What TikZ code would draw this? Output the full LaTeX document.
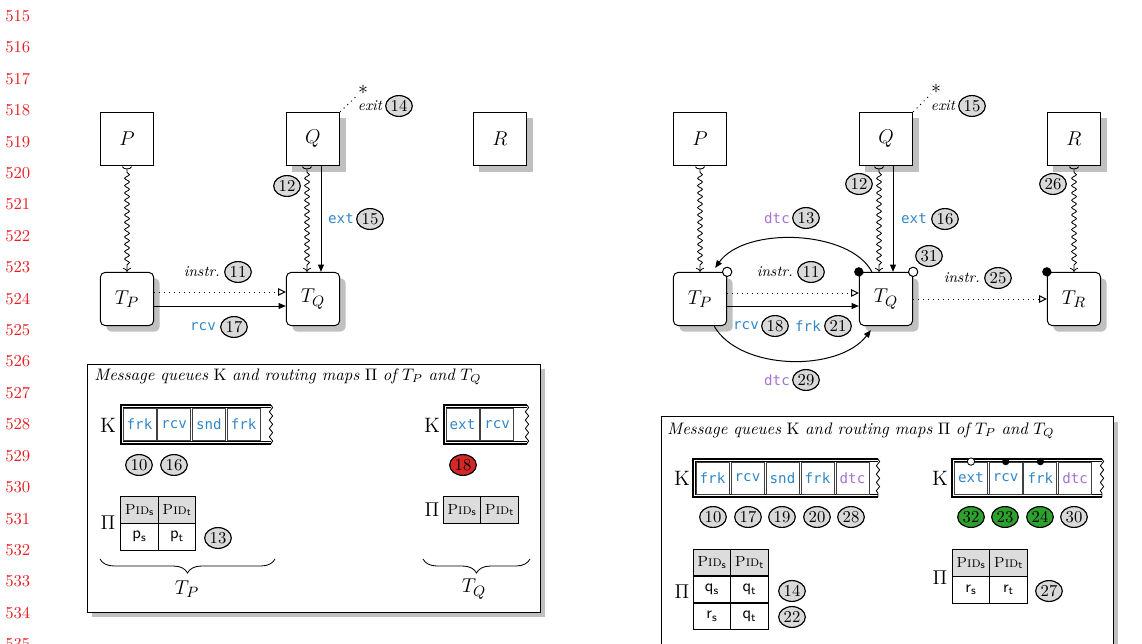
\documentclass[tikz,border=0pt]{standalone}
\usepackage{fontspec}
\newfontfamily\codefont{DejaVu Sans Mono}
\usetikzlibrary{arrows.meta,shapes.geometric,shadows,decorations.pathmorphing,decorations.pathreplacing,calc}

\definecolor{lnred}{RGB}{230,30,35}
\definecolor{codeblue}{RGB}{50,135,200}
\definecolor{codepurple}{RGB}{165,115,210}
\definecolor{badgegrey}{RGB}{217,217,217}
\definecolor{badgered}{RGB}{212,40,40}
\definecolor{badgegreen}{RGB}{45,160,45}
\definecolor{shadowgrey}{RGB}{192,192,192}
\definecolor{headgrey}{RGB}{220,220,220}

\newcommand\pid[1]{\textsc{Pid}$_{\mathsf{#1}}$}
\newcommand\sv[2]{\textsf{#1}$_{\mathsf{#2}}$}
% queue frame: double border on three sides, torn right edge
\newcommand\qframe[4]{%
  \draw[line width=0.8pt] (#3,#2) -- (#1,#2) -- (#1,#4) -- (#3,#4);
  \draw[line width=0.4pt] (#3,#2+2.5) -- (#1+2.5,#2+2.5) -- (#1+2.5,#4-2.5) -- (#3,#4-2.5);
  \draw[line width=0.5pt, decorate, decoration={snake,amplitude=1pt,segment length=5pt}] (#3,#2) -- (#3,#4);
}
% small cup at the start of a wavy connector
\newcommand\cupat[2]{%
  \draw[line width=0.5pt] ([xshift=#2-2.8pt,yshift=-0.3pt]#1) .. controls ([xshift=#2-2.2pt,yshift=-2.1pt]#1) and ([xshift=#2+2.2pt,yshift=-2.1pt]#1) .. ([xshift=#2+2.8pt,yshift=-0.3pt]#1);
}

\tikzset{
  lnum/.style={font=\fontsize{10}{12}\selectfont, text=lnred, anchor=west, inner sep=0pt},
  proc/.style={draw, line width=0.6pt, minimum width=32pt, minimum height=32pt, inner sep=0pt, fill=white, font=\fontsize{13}{15}\selectfont},
  shad/.style={drop shadow={shadow xshift=3.6pt, shadow yshift=-3.6pt, fill=shadowgrey, opacity=1}},
  thread/.style={proc, rounded corners=3pt},
  badge/.style={ellipse, draw, line width=0.7pt, fill=badgegrey, minimum width=16pt, minimum height=12.5pt, inner sep=0pt, font=\fontsize{10}{11}\selectfont},
  badgered/.style={badge, fill=badgered},
  badgegreen/.style={badge, fill=badgegreen},
  code/.style={font=\codefont\fontsize{8.5}{10}\selectfont, text=codeblue, inner sep=0.5pt},
  codep/.style={code, text=codepurple},
  itlab/.style={font=\fontsize{9}{10}\selectfont\itshape, inner sep=0.5pt},
  sym/.style={font=\fontsize{12}{14}\selectfont, inner sep=0pt},
  wavy/.style={line width=0.5pt, decorate, decoration={snake, amplitude=1.4pt, segment length=4.4pt, pre length=2pt, post length=3pt}, -{To[length=2.4pt,width=5pt]}},
  msg/.style={line width=0.6pt, -{Triangle[length=4.4pt,width=3.6pt]}},
  instr/.style={line width=0.6pt, dash pattern=on 0.6pt off 2.4pt, -{Triangle[open,length=4.6pt,width=4.4pt]}},
  exitline/.style={line width=0.6pt, dash pattern=on 0.6pt off 2.4pt},
  cell/.style={draw=black!75, line width=0.5pt, minimum width=19.8pt, minimum height=19.2pt, inner sep=0pt, fill=white},
  tcell/.style={draw, line width=0.6pt, minimum width=22.5pt, minimum height=16pt, inner sep=0pt, font=\fontsize{10}{11}\selectfont},
  hcell/.style={tcell, fill=headgrey, font=\fontsize{8.8}{10}\selectfont},
  opendot/.style={circle, draw, line width=0.6pt, fill=white, minimum size=5.6pt, inner sep=0pt},
  fulldot/.style={circle, fill=black, minimum size=5.6pt, inner sep=0pt},
  qopen/.style={circle, draw, line width=0.5pt, fill=white, minimum size=4.4pt, inner sep=0pt},
  qfull/.style={circle, fill=black, minimum size=4.4pt, inner sep=0pt},
  memo/.style={draw, line width=0.6pt, fill=white, inner sep=0pt, drop shadow={shadow xshift=3pt, shadow yshift=-3pt, fill=shadowgrey, opacity=1}},
  caption/.style={anchor=west, inner sep=0pt, font=\fontsize{10}{12}\selectfont},
  big/.style={font=\fontsize{12.5}{14}\selectfont, inner sep=0pt},
  brace/.style={decorate, decoration={brace, mirror, amplitude=8.4pt}, line width=0.5pt},
}

\begin{document}
\begin{tikzpicture}[x=0.6pt,y=-0.6pt]
\useasboundingbox (0,0) rectangle (1142,644);

% line numbers
\foreach \i in {0,...,20}{
  \pgfmathtruncatemacro\n{515+\i}
  \node[lnum] (ln\n) at (5,16+31.42*\i) {\n};
}

% ===================== left configuration =====================
\node[proc] (P) at (127,139) {$P$};
\node[proc, shad] (Q) at (313,139) {$Q$};
\node[proc, shad] (R) at (500,139) {$R$};
\node[thread, shad] (TP) at (127,299) {$T_P$};
\node[thread, shad] (TQ) at (313,299) {$T_Q$};

\cupat{P.south}{0pt}
\draw[wavy] ([yshift=-1.7pt]P.south) -- (TP.north);
\cupat{Q.south}{-3.6pt}
\draw[wavy] ([xshift=-3.6pt,yshift=-1.7pt]Q.south) -- ([xshift=-3.6pt]TQ.north);
\draw[msg] ([xshift=4.8pt]Q.south) -- ([xshift=4.8pt]TQ.north);
\draw[instr] ([yshift=4.2pt]TP.east) -- ([yshift=4.2pt]TQ.west);
\draw[msg] ([yshift=-4.2pt]TP.east) -- ([yshift=-4.2pt]TQ.west);

\node[itlab, anchor=east] (li11) at (221,272) {instr.};
\node[badge] (b11) at (238,272) {11};
\node[code] (lrcv) at (203,327) {rcv};
\node[badge] (b17) at (234,327) {17};
\node[code] (lext) at (341,219) {ext};
\node[badge] (b15) at (370,219) {15};
\node[badge] (b12) at (287,186) {12};
\node[sym] (star) at (363,90) {$\ast$};
\draw[exitline] (Q.north east) -- (star);
\node[itlab] (lexit) at (370,106) {exit};
\node[badge] (b14) at (399,106) {14};

% memory of T_P and T_Q
\node[memo, minimum width=271.8pt, minimum height=148.8pt] (memL) at (313.5,488) {};
\node[caption] (capL) at (94,377) {{\itshape Message queues} K {\itshape and routing maps} $\Pi$ {\itshape of} $T_P$ {\itshape and} $T_Q$};

\node[big] (KP) at (108,425) {K};
\qframe{121}{405}{271}{444}
\node[cell, code] (kp1) at (139.5,424.5) {frk};
\node[cell, code] (kp2) at (174.2,424.5) {rcv};
\node[cell, code] (kp3) at (208.9,424.5) {snd};
\node[cell, code] (kp4) at (243.6,424.5) {frk};
\node[badge] (b10) at (139,465) {10};
\node[badge] (b16) at (174,465) {16};

\node[big] (PiP) at (108,523) {$\Pi$};
\node[hcell] (pp1) at (139.5,510.2) {\pid{s}};
\node[hcell] (pp2) at (177,510.2) {\pid{t}};
\node[tcell] (pp3) at (139.5,536.8) {\sv{p}{s}};
\node[tcell] (pp4) at (177,536.8) {\sv{p}{t}};
\node[badge] (b13) at (218,538) {13};
\draw[brace] (100,559) -- (275,559);
\node[big] (bTP) at (187,589) {$T_P$};

\node[big] (KQ) at (432,425) {K};
\qframe{444}{405}{527}{444}
\node[cell, code] (kq1) at (462.5,424.5) {ext};
\node[cell, code] (kq2) at (497.2,424.5) {rcv};
\node[badgered] (b18) at (463,465) {18};
\node[big] (PiQ) at (432,510) {$\Pi$};
\node[hcell] (pq1) at (462,510.2) {\pid{s}};
\node[hcell] (pq2) at (499.5,510.2) {\pid{t}};
\draw[brace] (423,559) -- (530,559);
\node[big] (bTQ) at (474,589) {$T_Q$};

% ===================== right configuration =====================
\node[proc] (P2) at (700,139) {$P$};
\node[proc, shad] (Q2) at (886,139) {$Q$};
\node[proc, shad] (R2) at (1074,139) {$R$};
\node[thread, shad] (TP2) at (700,299) {$T_P$};
\node[thread, shad] (TQ2) at (886,299) {$T_Q$};
\node[thread, shad] (TR2) at (1074,299) {$T_R$};

\cupat{P2.south}{0pt}
\draw[wavy] ([yshift=-1.7pt]P2.south) -- (TP2.north);
\cupat{Q2.south}{-4.2pt}
\draw[wavy] ([xshift=-4.2pt,yshift=-1.7pt]Q2.south) -- ([xshift=-4.2pt]TQ2.north);
\draw[msg] ([xshift=4.2pt]Q2.south) -- ([xshift=4.2pt]TQ2.north);
\cupat{R2.south}{0pt}
\draw[wavy] ([yshift=-1.7pt]R2.south) -- (TR2.north);

\draw[instr] ([yshift=3.6pt]TP2.east) -- ([yshift=3.6pt]TQ2.west);
\draw[msg] ([yshift=-4.2pt]TP2.east) -- ([yshift=-4.2pt]TQ2.west);
\draw[instr] (TQ2.east) -- (TR2.west);

\coordinate (d13s) at ([xshift=7.8pt]TQ2.north west);
\coordinate (d13e) at ([xshift=-7.2pt,yshift=2.4pt]TP2.north east);
\draw[msg] (d13s) .. controls ($(d13s)+(-22,-42)$) and ($(d13e)+(30,-42)$) .. (d13e);
\coordinate (d29s) at ([xshift=-7.8pt]TP2.south east);
\coordinate (d29e) at ([xshift=7.2pt,yshift=-2.4pt]TQ2.south west);
\draw[msg] (d29s) .. controls ($(d29s)+(26,45)$) and ($(d29e)+(-32,42)$) .. (d29e);

\node[opendot] (oTP) at (TP2.north east) {};
\node[fulldot] (fTQ) at (TQ2.north west) {};
\node[opendot] (oTQ) at (TQ2.north east) {};
\node[fulldot] (fTR) at (TR2.north west) {};

\node[codep] (ldtc1) at (777,218) {dtc};
\node[badge] (c13) at (806,218) {13};
\node[itlab, anchor=east] (li11b) at (794,272) {instr.};
\node[badge] (c11) at (811,272) {11};
\node[code] (lrcv2) at (746,326) {rcv};
\node[badge] (c18) at (775,326) {18};
\node[code] (lfrk2) at (808,326) {frk};
\node[badge] (c21) at (838,326) {21};
\node[codep] (ldtc2) at (777,380) {dtc};
\node[badge] (c29) at (806,380) {29};
\node[badge] (c12) at (859,184) {12};
\node[code] (lext2) at (914,219) {ext};
\node[badge] (c16) at (945,219) {16};
\node[sym] (star2) at (936,89) {$\ast$};
\draw[exitline] (Q2.north east) -- (star2);
\node[itlab] (lexit2) at (943,106) {exit};
\node[badge] (c15) at (972,106) {15};
\node[badge] (c31) at (929,256) {31};
\node[itlab, anchor=east] (li25) at (981,278) {instr.};
\node[badge] (c25) at (998,278) {25};
\node[badge] (c26) at (1053,184) {26};

% memory of T_P and T_Q
\node[memo, minimum width=271.2pt, minimum height=160pt] (memR) at (887,550) {};
\node[caption] (capR) at (667,431) {{\itshape Message queues} K {\itshape and routing maps} $\Pi$ {\itshape of} $T_P$ {\itshape and} $T_Q$};

\node[big] (KP2) at (682,478) {K};
\qframe{693}{459}{878}{497}
\node[cell, code] (kr1) at (712.5,478) {frk};
\node[cell, code] (kr2) at (747.5,478) {rcv};
\node[cell, code] (kr3) at (782.5,478) {snd};
\node[cell, code] (kr4) at (817.5,478) {frk};
\node[cell, codep] (kr5) at (852.5,478) {dtc};
\node[badge] (e10) at (713,517) {10};
\node[badge] (e17) at (748,517) {17};
\node[badge] (e19) at (782,517) {19};
\node[badge] (e20) at (817,517) {20};
\node[badge] (e28) at (851,517) {28};

\node[big] (KQ2) at (940,478) {K};
\qframe{952}{459}{1102}{497}
\node[cell, code] (ks1) at (971,478) {ext};
\node[cell, code] (ks2) at (1005.7,478) {rcv};
\node[cell, code] (ks3) at (1040.4,478) {frk};
\node[cell, codep] (ks4) at (1075.1,478) {dtc};
\node[qopen] (qo1) at (ks1.north) {};
\node[qfull] (qf2) at (ks2.north) {};
\node[qfull] (qf3) at (ks3.north) {};
\node[badgegreen] (e32) at (971,517) {32};
\node[badgegreen] (e23) at (1005,517) {23};
\node[badgegreen] (e24) at (1040,517) {24};
\node[badge] (e30) at (1074,517) {30};

\node[big] (PiP2) at (682,592) {$\Pi$};
\node[hcell] (rp1) at (712,562.5) {\pid{s}};
\node[hcell] (rp2) at (749.5,562.5) {\pid{t}};
\node[tcell] (rp3) at (712,589.5) {\sv{q}{s}};
\node[tcell] (rp4) at (749.5,589.5) {\sv{q}{t}};
\node[tcell] (rp5) at (712,616.5) {\sv{r}{s}};
\node[tcell] (rp6) at (749.5,616.5) {\sv{q}{t}};
\node[badge] (e14) at (792,591) {14};
\node[badge] (e22) at (792,617) {22};

\node[big] (PiQ2) at (940,578) {$\Pi$};
\node[hcell] (rq1) at (971,563) {\pid{s}};
\node[hcell] (rq2) at (1008.5,563) {\pid{t}};
\node[tcell] (rq3) at (971,590) {\sv{r}{s}};
\node[tcell] (rq4) at (1008.5,590) {\sv{r}{t}};
\node[badge] (e27) at (1049,591) {27};
\end{tikzpicture}
\end{document}
